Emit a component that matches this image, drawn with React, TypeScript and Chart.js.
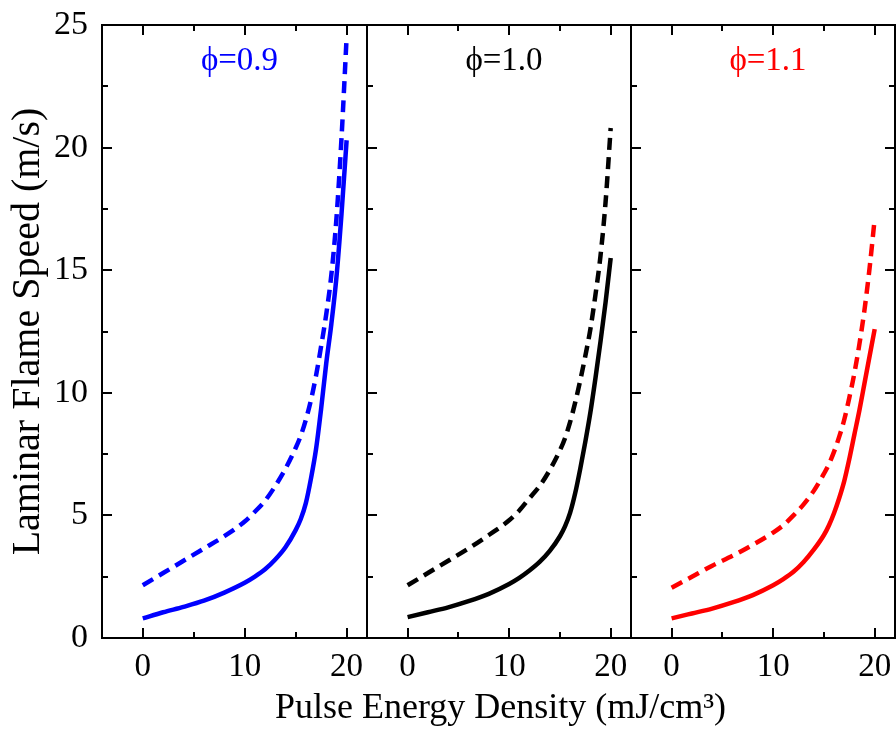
import React, { useEffect, useRef } from "react";
import { Chart, registerables } from "chart.js";

Chart.register(...registerables);

// ---- data ----
const X_VALUES = [0, 2, 4, 6, 8, 10, 11, 12, 13, 14, 15, 15.5, 16, 16.5, 17, 17.5, 18, 18.5, 19, 19.5, 20];

const PHI_09_SOLID = [0.8, 1.05, 1.27, 1.52, 1.85, 2.25, 2.5, 2.8, 3.2, 3.7, 4.4, 4.85, 5.5, 6.5, 7.7, 9.35, 11.2, 12.8, 14.7, 17.3, 20.3];
const PHI_09_DASHED = [2.15, 2.65, 3.15, 3.65, 4.15, 4.75, 5.15, 5.6, 6.2, 6.9, 7.75, 8.25, 8.9, 9.7, 10.7, 11.9, 13.2, 14.8, 17.1, 20.4, 24.5];

const PHI_10_SOLID = [0.85, 1.05, 1.25, 1.5, 1.8, 2.2, 2.45, 2.75, 3.1, 3.55, 4.15, 4.55, 5.1, 5.9, 6.9, 8.0, 9.2, 10.6, 12.1, 13.7, 15.5];
const PHI_10_DASHED = [2.15, 2.65, 3.15, 3.65, 4.2, 4.8, 5.2, 5.7, 6.2, 6.85, 7.65, 8.15, 8.8, 9.6, 10.5, 11.5, 12.6, 14.0, 15.6, 17.8, 20.8];

const PHI_11_SOLID = [0.8, 1.0, 1.2, 1.45, 1.75, 2.15, 2.4, 2.7, 3.1, 3.6, 4.2, 4.6, 5.1, 5.7, 6.4, 7.3, 8.3, 9.3, 10.4, 11.5, 12.6];
const PHI_11_DASHED = [2.05, 2.5, 2.95, 3.35, 3.8, 4.3, 4.6, 5.0, 5.45, 6.0, 6.7, 7.1, 7.6, 8.2, 8.9, 9.8, 10.8, 12.0, 13.4, 15.1, 17.1];

const PANEL_LABELS = ["ϕ=0.9", "ϕ=1.0", "ϕ=1.1"];
const PANEL_COLORS = ["#0000ff", "#000000", "#ff0000"];
const PANEL_SOLID = [PHI_09_SOLID, PHI_10_SOLID, PHI_11_SOLID];
const PANEL_DASHED = [PHI_09_DASHED, PHI_10_DASHED, PHI_11_DASHED];

const X_TICKS = [0, 10, 20];
const X_MINOR_TICKS = [5, 15];
const Y_TICKS = [0, 5, 10, 15, 20, 25];
const Y_MINOR_TICKS = [2.5, 7.5, 12.5, 17.5, 22.5];
const X_MIN = -4;
const X_MAX = 22;
const Y_MIN = 0;
const Y_MAX = 25;

const Y_TITLE = "Laminar Flame Speed (m/s)";
const X_TITLE = "Pulse Energy Density (mJ/cm³)";

// ---- layout ----
const W = 896;
const H = 729;
const EDGES = [102, 367, 631, 895];
const PLOT_TOP = 25;
const PLOT_BOTTOM = 638;
const FONT = '"Liberation Serif", "Times New Roman", serif';

function makePlugin(i: number) {
  return {
    id: "frameTicks" + i,
    afterDatasetsDraw(chart: any) {
      const { ctx, chartArea: a, scales } = chart;
      const xs = scales.x;
      const ys = scales.y;
      ctx.save();
      ctx.strokeStyle = "#000";
      ctx.lineWidth = 2;
      ctx.strokeRect(a.left, a.top, a.right - a.left, a.bottom - a.top);
      ctx.beginPath();
      const xTick = (v: number, len: number) => {
        const px = Math.round(xs.getPixelForValue(v));
        ctx.moveTo(px, a.bottom);
        ctx.lineTo(px, a.bottom - len);
        ctx.moveTo(px, a.top);
        ctx.lineTo(px, a.top + len);
      };
      X_TICKS.forEach((v) => xTick(v, 10));
      X_MINOR_TICKS.forEach((v) => xTick(v, 6));
      const yTick = (v: number, len: number) => {
        const py = Math.round(ys.getPixelForValue(v));
        ctx.moveTo(a.left, py);
        ctx.lineTo(a.left + len, py);
        if (i === 2) {
          ctx.moveTo(a.right, py);
          ctx.lineTo(a.right - len, py);
        }
      };
      Y_TICKS.forEach((v) => yTick(v, 10));
      Y_MINOR_TICKS.forEach((v) => yTick(v, 6));
      ctx.stroke();

      ctx.fillStyle = PANEL_COLORS[i];
      ctx.font = "33px " + FONT;
      ctx.textAlign = "center";
      ctx.textBaseline = "middle";
      ctx.fillText(PANEL_LABELS[i], (a.left + a.right) / 2 + 5, 61);

      if (i === 1) {
        ctx.fillStyle = "#000";
        ctx.font = "36px " + FONT;
        ctx.textAlign = "center";
        ctx.textBaseline = "alphabetic";
        ctx.fillText(X_TITLE, (EDGES[0] + EDGES[3]) / 2 + 2, 718);
      }
      ctx.restore();
    },
  };
}

function Panel({ index }: { index: number }) {
  const ref = useRef<HTMLCanvasElement | null>(null);
  useEffect(() => {
    if (!ref.current) return;
    const color = PANEL_COLORS[index];
    const solid = PANEL_SOLID[index];
    const dashed = PANEL_DASHED[index];
    const first = index === 0;
    const chart = new Chart(ref.current, {
      type: "line",
      data: {
        datasets: [
          {
            data: X_VALUES.map((x, k) => ({ x, y: solid[k] })),
            borderColor: color,
            borderWidth: 4.5,
            pointRadius: 0,
            fill: false,
            cubicInterpolationMode: "monotone",
          },
          {
            data: X_VALUES.map((x, k) => ({ x, y: dashed[k] })),
            borderColor: color,
            borderWidth: 4.5,
            borderDash: [12, 7],
            pointRadius: 0,
            fill: false,
            cubicInterpolationMode: "monotone",
          },
        ],
      },
      options: {
        responsive: false,
        animation: false,
        layout: {
          padding: {
            left: first ? 4 : EDGES[index],
            right: W - EDGES[index + 1],
            top: PLOT_TOP,
            bottom: 0,
          },
        },
        plugins: { legend: { display: false }, tooltip: { enabled: false }, title: { display: false } },
        scales: {
          x: {
            type: "linear",
            min: X_MIN,
            max: X_MAX,
            grid: { display: false, drawTicks: false, tickLength: 0 },
            border: { display: false },
            afterBuildTicks: (s: any) => {
              s.ticks = X_TICKS.map((v) => ({ value: v }));
            },
            afterFit: (s: any) => {
              s.height = H - PLOT_BOTTOM;
              s.paddingLeft = 0;
              s.paddingRight = 0;
            },
            ticks: {
              color: "#000",
              font: { family: FONT, size: 33 },
              padding: 10,
              maxRotation: 0,
              autoSkip: false,
            },
          },
          y: {
            type: "linear",
            min: Y_MIN,
            max: Y_MAX,
            display: first,
            grid: { display: false, drawTicks: false, tickLength: 0 },
            border: { display: false },
            afterBuildTicks: (s: any) => {
              s.ticks = Y_TICKS.map((v) => ({ value: v }));
            },
            afterFit: (s: any) => {
              s.width = first ? EDGES[0] - 4 : 0;
              s.paddingTop = 0;
              s.paddingBottom = 0;
            },
            ticks: {
              color: "#000",
              font: { family: FONT, size: 34 },
              padding: 14,
            },
            title: {
              display: true,
              text: Y_TITLE,
              color: "#000",
              font: { family: FONT, size: 40 },
              padding: 0,
            },
          },
        },
      },
      plugins: [makePlugin(index)],
    } as any);
    return () => chart.destroy();
  }, [index]);
  return (
    <canvas
      ref={ref}
      width={W}
      height={H}
      style={{ position: "absolute", left: 0, top: 0, width: W, height: H }}
    />
  );
}

export default function App() {
  return (
    <div style={{ position: "fixed", left: 0, top: 0, width: W, height: H, background: "#fff" }}>
      <Panel index={0} />
      <Panel index={1} />
      <Panel index={2} />
    </div>
  );
}
